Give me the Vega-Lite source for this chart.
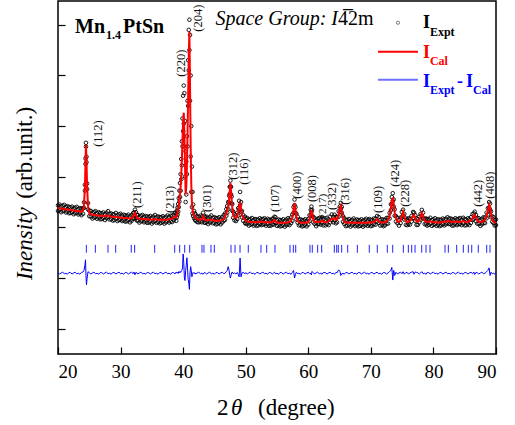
{
"$schema":"https://vega.github.io/schema/vega-lite/v6.json",
"width":438,"height":353,"autosize":"none",
"padding":{"left":58,"top":1,"right":19,"bottom":71},
"background":"white",
"config":{"view":{"stroke":"black","strokeWidth":1.5},"font":"Liberation Serif"},
"datasets":{
"xrd":[
{"t":20.00,"c":5.77,"a":5.87,"b":5.65,"d":3.21},{"t":20.25,"c":5.76,"a":5.90,"b":5.68,"d":3.16},{"t":20.50,"c":5.75,"a":5.83,"b":5.60,"d":3.20},{"t":20.75,"c":5.74,"a":5.86,"b":5.64,"d":3.23},{"t":21.00,"c":5.73,"a":5.89,"b":5.66,"d":3.17},{"t":21.25,"c":5.72,"a":5.81,"b":5.59,"d":3.19},{"t":21.50,"c":5.71,"a":5.84,"b":5.62,"d":3.15},{"t":21.75,"c":5.70,"a":5.81,"b":5.56,"d":3.22},
{"t":22.00,"c":5.69,"a":5.79,"b":5.57,"d":3.21},{"t":22.25,"c":5.68,"a":5.82,"b":5.60,"d":3.16},{"t":22.50,"c":5.67,"a":5.75,"b":5.52,"d":3.20},{"t":22.75,"c":5.66,"a":5.78,"b":5.56,"d":3.23},{"t":23.00,"c":5.65,"a":5.81,"b":5.58,"d":3.17},{"t":23.25,"c":5.64,"a":5.73,"b":5.51,"d":3.19},{"t":23.50,"c":5.63,"a":5.76,"b":5.54,"d":3.15},{"t":23.75,"c":5.62,"a":5.73,"b":5.48,"d":3.22},
{"t":24.00,"c":5.66,"a":5.76,"b":5.54,"d":3.24},{"t":24.15,"c":5.85,"a":5.99,"b":5.77,"d":3.30},{"t":24.30,"c":6.60,"a":6.68,"b":6.45,"d":3.50},{"t":24.40,"c":7.60,"a":7.72,"b":7.50,"d":3.72},{"t":24.47,"c":8.26,"a":8.34,"b":8.19,"d":3.10},{"t":24.55,"c":7.70,"a":7.79,"b":7.57,"d":2.73},{"t":24.65,"c":6.60,"a":6.73,"b":6.51,"d":3.00},{"t":24.80,"c":5.85,"a":5.96,"b":5.71,"d":3.25},
{"t":25.00,"c":5.56,"a":5.66,"b":5.44,"d":3.21},{"t":25.25,"c":5.51,"a":5.65,"b":5.43,"d":3.16},{"t":25.50,"c":5.50,"a":5.58,"b":5.35,"d":3.20},{"t":25.75,"c":5.49,"a":5.61,"b":5.39,"d":3.23},{"t":26.00,"c":5.48,"a":5.64,"b":5.41,"d":3.17},{"t":26.25,"c":5.47,"a":5.56,"b":5.34,"d":3.19},{"t":26.50,"c":5.47,"a":5.60,"b":5.38,"d":3.15},{"t":26.75,"c":5.46,"a":5.57,"b":5.32,"d":3.22},
{"t":27.00,"c":5.45,"a":5.55,"b":5.33,"d":3.21},{"t":27.25,"c":5.45,"a":5.59,"b":5.37,"d":3.16},{"t":27.50,"c":5.44,"a":5.52,"b":5.29,"d":3.20},{"t":27.75,"c":5.46,"a":5.58,"b":5.36,"d":3.23},{"t":28.00,"c":5.48,"a":5.64,"b":5.41,"d":3.17},{"t":28.25,"c":5.44,"a":5.53,"b":5.31,"d":3.19},{"t":28.50,"c":5.42,"a":5.55,"b":5.33,"d":3.15},{"t":28.75,"c":5.41,"a":5.52,"b":5.27,"d":3.22},
{"t":29.00,"c":5.41,"a":5.51,"b":5.29,"d":3.21},{"t":29.25,"c":5.43,"a":5.57,"b":5.35,"d":3.16},{"t":29.50,"c":5.40,"a":5.48,"b":5.25,"d":3.20},{"t":29.75,"c":5.39,"a":5.51,"b":5.29,"d":3.23},{"t":30.00,"c":5.38,"a":5.54,"b":5.31,"d":3.17},{"t":30.25,"c":5.38,"a":5.47,"b":5.25,"d":3.19},{"t":30.50,"c":5.37,"a":5.50,"b":5.28,"d":3.15},{"t":30.75,"c":5.37,"a":5.48,"b":5.23,"d":3.22},
{"t":31.00,"c":5.36,"a":5.46,"b":5.24,"d":3.21},{"t":31.25,"c":5.36,"a":5.50,"b":5.28,"d":3.16},{"t":31.50,"c":5.35,"a":5.43,"b":5.20,"d":3.20},{"t":31.75,"c":5.36,"a":5.48,"b":5.26,"d":3.23},{"t":32.00,"c":5.40,"a":5.56,"b":5.33,"d":3.17},{"t":32.15,"c":5.50,"a":5.59,"b":5.37,"d":3.24},{"t":32.30,"c":5.57,"a":5.70,"b":5.48,"d":3.13},{"t":32.45,"c":5.49,"a":5.60,"b":5.35,"d":3.22},
{"t":32.60,"c":5.39,"a":5.49,"b":5.27,"d":3.21},{"t":32.75,"c":5.35,"a":5.49,"b":5.27,"d":3.16},{"t":33.00,"c":5.34,"a":5.42,"b":5.19,"d":3.20},{"t":33.25,"c":5.34,"a":5.46,"b":5.24,"d":3.23},{"t":33.50,"c":5.33,"a":5.49,"b":5.26,"d":3.17},{"t":33.75,"c":5.33,"a":5.42,"b":5.20,"d":3.19},{"t":34.00,"c":5.32,"a":5.45,"b":5.23,"d":3.15},{"t":34.25,"c":5.32,"a":5.43,"b":5.18,"d":3.22},
{"t":34.50,"c":5.31,"a":5.41,"b":5.19,"d":3.21},{"t":34.75,"c":5.31,"a":5.45,"b":5.23,"d":3.16},{"t":35.00,"c":5.30,"a":5.38,"b":5.15,"d":3.20},{"t":35.25,"c":5.31,"a":5.43,"b":5.21,"d":3.23},{"t":35.50,"c":5.33,"a":5.49,"b":5.26,"d":3.17},{"t":35.75,"c":5.31,"a":5.40,"b":5.18,"d":3.19},{"t":36.00,"c":5.30,"a":5.43,"b":5.21,"d":3.15},{"t":36.25,"c":5.30,"a":5.41,"b":5.16,"d":3.22},
{"t":36.50,"c":5.30,"a":5.40,"b":5.18,"d":3.21},{"t":36.75,"c":5.30,"a":5.44,"b":5.22,"d":3.16},{"t":37.00,"c":5.30,"a":5.38,"b":5.15,"d":3.20},{"t":37.25,"c":5.30,"a":5.42,"b":5.20,"d":3.23},{"t":37.50,"c":5.31,"a":5.47,"b":5.24,"d":3.17},{"t":37.75,"c":5.32,"a":5.41,"b":5.19,"d":3.19},{"t":38.00,"c":5.33,"a":5.46,"b":5.24,"d":3.15},{"t":38.25,"c":5.35,"a":5.46,"b":5.21,"d":3.22},
{"t":38.50,"c":5.40,"a":5.50,"b":5.28,"d":3.21},{"t":38.70,"c":5.44,"a":5.58,"b":5.36,"d":3.16},{"t":38.90,"c":5.40,"a":5.52,"b":5.26,"d":3.24},{"t":39.00,"c":5.50,"a":5.65,"b":5.40,"d":3.20},{"t":39.10,"c":5.58,"a":5.78,"b":5.50,"d":3.22},{"t":39.20,"c":5.72,"a":5.92,"b":5.62,"d":3.18},{"t":39.30,"c":5.90,"a":6.15,"b":5.80,"d":3.25},{"t":39.40,"c":6.15,"a":6.45,"b":6.02,"d":3.21},
{"t":39.50,"c":6.35,"a":6.75,"b":6.20,"d":3.26},{"t":39.60,"c":6.61,"a":7.10,"b":6.45,"d":3.22},{"t":39.70,"c":7.10,"a":7.70,"b":6.90,"d":3.28},{"t":39.80,"c":7.70,"a":8.40,"b":7.45,"d":3.30},{"t":39.90,"c":8.50,"a":9.30,"b":8.20,"d":3.40},{"t":40.00,"c":9.20,"a":10.20,"b":8.80,"d":3.95},{"t":40.10,"c":9.53,"a":10.60,"b":9.10,"d":3.60},{"t":40.20,"c":8.70,"a":10.30,"b":8.20,"d":3.00},
{"t":40.30,"c":7.40,"a":9.20,"b":7.00,"d":2.90},{"t":40.40,"c":6.30,"a":8.00,"b":6.00,"d":3.30},{"t":40.50,"c":6.60,"a":7.60,"b":6.30,"d":3.50},{"t":40.60,"c":7.40,"a":8.60,"b":7.10,"d":3.80},{"t":40.70,"c":8.60,"a":10.00,"b":8.20,"d":3.40},{"t":40.80,"c":10.20,"a":11.60,"b":9.80,"d":2.95},{"t":40.90,"c":11.80,"a":12.80,"b":11.20,"d":2.80},{"t":41.00,"c":12.73,"a":13.20,"b":12.00,"d":2.55},
{"t":41.10,"c":10.60,"a":12.60,"b":10.00,"d":3.20},{"t":41.20,"c":8.20,"a":11.00,"b":7.80,"d":3.45},{"t":41.30,"c":6.70,"a":9.00,"b":6.40,"d":3.30},{"t":41.40,"c":6.00,"a":7.40,"b":5.80,"d":3.05},{"t":41.50,"c":5.70,"a":6.40,"b":5.55,"d":3.15},{"t":41.60,"c":5.58,"a":5.90,"b":5.45,"d":3.22},{"t":41.75,"c":5.48,"a":5.65,"b":5.36,"d":3.18},{"t":41.90,"c":5.42,"a":5.55,"b":5.30,"d":3.21},
{"t":42.00,"c":5.38,"a":5.50,"b":5.26,"d":3.16},{"t":42.25,"c":5.33,"a":5.43,"b":5.21,"d":3.20},{"t":42.50,"c":5.30,"a":5.42,"b":5.20,"d":3.23},{"t":42.75,"c":5.30,"a":5.46,"b":5.23,"d":3.17},{"t":43.00,"c":5.33,"a":5.42,"b":5.20,"d":3.19},{"t":43.20,"c":5.45,"a":5.58,"b":5.36,"d":3.15},{"t":43.40,"c":5.34,"a":5.45,"b":5.20,"d":3.22},{"t":43.50,"c":5.30,"a":5.40,"b":5.18,"d":3.21},
{"t":43.75,"c":5.28,"a":5.42,"b":5.20,"d":3.16},{"t":44.00,"c":5.28,"a":5.36,"b":5.13,"d":3.20},{"t":44.25,"c":5.29,"a":5.41,"b":5.19,"d":3.23},{"t":44.50,"c":5.31,"a":5.47,"b":5.24,"d":3.17},{"t":44.75,"c":5.29,"a":5.38,"b":5.16,"d":3.19},{"t":45.00,"c":5.27,"a":5.40,"b":5.18,"d":3.15},{"t":45.25,"c":5.26,"a":5.37,"b":5.12,"d":3.22},{"t":45.50,"c":5.26,"a":5.36,"b":5.14,"d":3.21},
{"t":45.75,"c":5.26,"a":5.40,"b":5.18,"d":3.16},{"t":46.00,"c":5.27,"a":5.35,"b":5.12,"d":3.20},{"t":46.25,"c":5.29,"a":5.41,"b":5.19,"d":3.23},{"t":46.50,"c":5.33,"a":5.49,"b":5.26,"d":3.17},{"t":46.70,"c":5.43,"a":5.55,"b":5.30,"d":3.19},{"t":46.90,"c":5.56,"a":5.72,"b":5.46,"d":3.25},{"t":47.05,"c":5.69,"a":5.85,"b":5.58,"d":3.30},{"t":47.20,"c":5.85,"a":6.00,"b":5.72,"d":3.45},
{"t":47.35,"c":6.12,"a":6.25,"b":5.98,"d":3.30},{"t":47.45,"c":6.45,"a":6.60,"b":6.32,"d":3.10},{"t":47.55,"c":6.76,"a":6.85,"b":6.62,"d":3.00},{"t":47.65,"c":6.45,"a":6.60,"b":6.30,"d":3.10},{"t":47.75,"c":6.10,"a":6.22,"b":5.95,"d":3.20},{"t":47.85,"c":5.80,"a":5.92,"b":5.66,"d":3.24},{"t":48.00,"c":5.50,"a":5.62,"b":5.38,"d":3.17},{"t":48.20,"c":5.40,"a":5.52,"b":5.28,"d":3.20},
{"t":48.45,"c":5.37,"a":5.47,"b":5.25,"d":3.16},{"t":48.65,"c":5.45,"a":5.58,"b":5.33,"d":3.22},{"t":48.80,"c":5.60,"a":5.76,"b":5.48,"d":3.15},{"t":48.95,"c":5.85,"a":6.05,"b":5.72,"d":3.05},{"t":49.10,"c":6.00,"a":6.40,"b":5.88,"d":3.79},{"t":49.25,"c":5.75,"a":6.00,"b":5.62,"d":3.05},{"t":49.40,"c":5.52,"a":5.65,"b":5.40,"d":3.20},{"t":49.60,"c":5.38,"a":5.49,"b":5.26,"d":3.22},
{"t":49.90,"c":5.30,"a":5.42,"b":5.18,"d":3.17},{"t":50.00,"c":5.26,"a":5.35,"b":5.14,"d":3.21},{"t":50.25,"c":5.23,"a":5.37,"b":5.15,"d":3.16},{"t":50.50,"c":5.22,"a":5.30,"b":5.07,"d":3.20},{"t":50.75,"c":5.21,"a":5.33,"b":5.11,"d":3.23},{"t":51.00,"c":5.21,"a":5.37,"b":5.14,"d":3.17},{"t":51.25,"c":5.20,"a":5.29,"b":5.07,"d":3.19},{"t":51.50,"c":5.20,"a":5.33,"b":5.11,"d":3.15},
{"t":51.75,"c":5.20,"a":5.31,"b":5.06,"d":3.22},{"t":52.00,"c":5.20,"a":5.30,"b":5.08,"d":3.21},{"t":52.25,"c":5.22,"a":5.36,"b":5.14,"d":3.16},{"t":52.50,"c":5.24,"a":5.32,"b":5.09,"d":3.20},{"t":52.75,"c":5.21,"a":5.33,"b":5.11,"d":3.23},{"t":53.00,"c":5.20,"a":5.36,"b":5.13,"d":3.17},{"t":53.25,"c":5.20,"a":5.29,"b":5.07,"d":3.19},{"t":53.50,"c":5.21,"a":5.34,"b":5.12,"d":3.15},
{"t":53.75,"c":5.20,"a":5.31,"b":5.06,"d":3.22},{"t":54.00,"c":5.19,"a":5.29,"b":5.07,"d":3.21},{"t":54.25,"c":5.20,"a":5.34,"b":5.12,"d":3.16},{"t":54.45,"c":5.26,"a":5.34,"b":5.11,"d":3.20},{"t":54.60,"c":5.30,"a":5.42,"b":5.20,"d":3.23},{"t":54.75,"c":5.24,"a":5.40,"b":5.17,"d":3.17},{"t":55.00,"c":5.19,"a":5.28,"b":5.06,"d":3.19},{"t":55.25,"c":5.18,"a":5.31,"b":5.09,"d":3.15},
{"t":55.50,"c":5.18,"a":5.29,"b":5.04,"d":3.22},{"t":55.75,"c":5.18,"a":5.28,"b":5.06,"d":3.21},{"t":56.00,"c":5.18,"a":5.32,"b":5.10,"d":3.16},{"t":56.25,"c":5.18,"a":5.26,"b":5.03,"d":3.20},{"t":56.50,"c":5.19,"a":5.31,"b":5.09,"d":3.23},{"t":56.75,"c":5.20,"a":5.36,"b":5.13,"d":3.17},{"t":57.00,"c":5.22,"a":5.31,"b":5.09,"d":3.19},{"t":57.25,"c":5.26,"a":5.39,"b":5.17,"d":3.15},
{"t":57.45,"c":5.40,"a":5.51,"b":5.26,"d":3.22},{"t":57.65,"c":5.70,"a":5.80,"b":5.58,"d":3.30},{"t":57.80,"c":5.96,"a":6.10,"b":5.88,"d":3.00},{"t":57.95,"c":5.72,"a":5.80,"b":5.57,"d":3.15},{"t":58.10,"c":5.42,"a":5.54,"b":5.32,"d":3.23},{"t":58.30,"c":5.26,"a":5.42,"b":5.19,"d":3.17},{"t":58.50,"c":5.21,"a":5.30,"b":5.08,"d":3.19},{"t":58.75,"c":5.19,"a":5.32,"b":5.10,"d":3.15},
{"t":59.00,"c":5.18,"a":5.29,"b":5.04,"d":3.22},{"t":59.25,"c":5.18,"a":5.28,"b":5.06,"d":3.21},{"t":59.50,"c":5.18,"a":5.32,"b":5.10,"d":3.16},{"t":59.75,"c":5.19,"a":5.27,"b":5.04,"d":3.20},{"t":60.00,"c":5.21,"a":5.33,"b":5.11,"d":3.23},{"t":60.20,"c":5.32,"a":5.48,"b":5.25,"d":3.17},{"t":60.40,"c":5.60,"a":5.69,"b":5.47,"d":3.19},{"t":60.50,"c":5.69,"a":5.82,"b":5.60,"d":3.12},
{"t":60.60,"c":5.58,"a":5.69,"b":5.44,"d":3.26},{"t":60.80,"c":5.32,"a":5.42,"b":5.20,"d":3.21},{"t":61.00,"c":5.22,"a":5.36,"b":5.14,"d":3.16},{"t":61.25,"c":5.20,"a":5.28,"b":5.05,"d":3.20},{"t":61.50,"c":5.22,"a":5.34,"b":5.12,"d":3.23},{"t":61.75,"c":5.21,"a":5.37,"b":5.14,"d":3.17},{"t":62.00,"c":5.24,"a":5.33,"b":5.11,"d":3.19},{"t":62.20,"c":5.28,"a":5.41,"b":5.19,"d":3.15},
{"t":62.40,"c":5.22,"a":5.33,"b":5.08,"d":3.22},{"t":62.75,"c":5.20,"a":5.30,"b":5.08,"d":3.21},{"t":63.00,"c":5.21,"a":5.35,"b":5.13,"d":3.16},{"t":63.25,"c":5.24,"a":5.32,"b":5.09,"d":3.20},{"t":63.50,"c":5.30,"a":5.42,"b":5.20,"d":3.23},{"t":63.75,"c":5.35,"a":5.51,"b":5.28,"d":3.17},{"t":64.00,"c":5.33,"a":5.42,"b":5.20,"d":3.19},{"t":64.20,"c":5.37,"a":5.50,"b":5.28,"d":3.15},
{"t":64.40,"c":5.30,"a":5.41,"b":5.16,"d":3.22},{"t":64.60,"c":5.32,"a":5.42,"b":5.20,"d":3.21},{"t":64.85,"c":5.50,"a":5.64,"b":5.42,"d":3.32},{"t":65.05,"c":5.75,"a":5.83,"b":5.60,"d":3.26},{"t":65.20,"c":5.85,"a":5.97,"b":5.75,"d":3.10},{"t":65.35,"c":5.65,"a":5.81,"b":5.58,"d":3.17},{"t":65.55,"c":5.35,"a":5.44,"b":5.22,"d":3.19},{"t":65.75,"c":5.23,"a":5.36,"b":5.14,"d":3.15},
{"t":66.00,"c":5.19,"a":5.30,"b":5.05,"d":3.22},{"t":66.25,"c":5.19,"a":5.29,"b":5.07,"d":3.21},{"t":66.50,"c":5.19,"a":5.33,"b":5.11,"d":3.16},{"t":66.75,"c":5.18,"a":5.26,"b":5.03,"d":3.20},{"t":67.00,"c":5.18,"a":5.30,"b":5.08,"d":3.23},{"t":67.25,"c":5.19,"a":5.35,"b":5.12,"d":3.17},{"t":67.50,"c":5.18,"a":5.27,"b":5.05,"d":3.19},{"t":67.75,"c":5.18,"a":5.31,"b":5.09,"d":3.15},
{"t":68.00,"c":5.18,"a":5.29,"b":5.04,"d":3.22},{"t":68.25,"c":5.18,"a":5.28,"b":5.06,"d":3.21},{"t":68.50,"c":5.18,"a":5.32,"b":5.10,"d":3.16},{"t":68.75,"c":5.18,"a":5.26,"b":5.03,"d":3.20},{"t":69.00,"c":5.18,"a":5.30,"b":5.08,"d":3.23},{"t":69.25,"c":5.18,"a":5.34,"b":5.11,"d":3.17},{"t":69.50,"c":5.19,"a":5.28,"b":5.06,"d":3.19},{"t":69.75,"c":5.20,"a":5.33,"b":5.11,"d":3.15},
{"t":70.00,"c":5.19,"a":5.30,"b":5.05,"d":3.22},{"t":70.25,"c":5.19,"a":5.29,"b":5.07,"d":3.21},{"t":70.50,"c":5.21,"a":5.35,"b":5.13,"d":3.16},{"t":70.75,"c":5.26,"a":5.34,"b":5.11,"d":3.20},{"t":71.00,"c":5.33,"a":5.45,"b":5.23,"d":3.23},{"t":71.25,"c":5.25,"a":5.41,"b":5.18,"d":3.17},{"t":71.50,"c":5.20,"a":5.29,"b":5.07,"d":3.19},{"t":71.75,"c":5.19,"a":5.32,"b":5.10,"d":3.15},
{"t":72.00,"c":5.19,"a":5.30,"b":5.05,"d":3.22},{"t":72.25,"c":5.20,"a":5.30,"b":5.08,"d":3.21},{"t":72.50,"c":5.23,"a":5.37,"b":5.15,"d":3.16},{"t":72.75,"c":5.30,"a":5.38,"b":5.15,"d":3.20},{"t":73.00,"c":5.45,"a":5.57,"b":5.35,"d":3.26},{"t":73.20,"c":5.75,"a":5.91,"b":5.68,"d":3.30},{"t":73.35,"c":6.05,"a":6.20,"b":5.92,"d":3.42},{"t":73.50,"c":6.17,"a":6.35,"b":6.05,"d":2.92},
{"t":73.65,"c":5.95,"a":6.10,"b":5.82,"d":3.30},{"t":73.80,"c":5.60,"a":5.71,"b":5.46,"d":3.10},{"t":74.00,"c":5.35,"a":5.45,"b":5.23,"d":3.23},{"t":74.25,"c":5.24,"a":5.38,"b":5.16,"d":3.16},{"t":74.50,"c":5.22,"a":5.30,"b":5.07,"d":3.20},{"t":74.75,"c":5.27,"a":5.39,"b":5.17,"d":3.23},{"t":74.95,"c":5.45,"a":5.61,"b":5.38,"d":3.17},{"t":75.15,"c":5.61,"a":5.70,"b":5.48,"d":3.25},
{"t":75.35,"c":5.40,"a":5.53,"b":5.31,"d":3.15},{"t":75.60,"c":5.24,"a":5.35,"b":5.10,"d":3.22},{"t":75.85,"c":5.21,"a":5.31,"b":5.09,"d":3.21},{"t":76.00,"c":5.22,"a":5.36,"b":5.14,"d":3.16},{"t":76.25,"c":5.26,"a":5.34,"b":5.11,"d":3.20},{"t":76.50,"c":5.33,"a":5.45,"b":5.23,"d":3.23},{"t":76.75,"c":5.45,"a":5.61,"b":5.38,"d":3.25},{"t":76.90,"c":5.49,"a":5.58,"b":5.36,"d":3.15},
{"t":77.10,"c":5.35,"a":5.48,"b":5.26,"d":3.24},{"t":77.30,"c":5.24,"a":5.35,"b":5.10,"d":3.22},{"t":77.50,"c":5.22,"a":5.32,"b":5.10,"d":3.21},{"t":77.75,"c":5.28,"a":5.42,"b":5.20,"d":3.16},{"t":77.95,"c":5.45,"a":5.53,"b":5.30,"d":3.20},{"t":78.15,"c":5.57,"a":5.69,"b":5.47,"d":3.25},{"t":78.35,"c":5.42,"a":5.58,"b":5.35,"d":3.17},{"t":78.60,"c":5.26,"a":5.35,"b":5.13,"d":3.19},
{"t":78.85,"c":5.22,"a":5.35,"b":5.13,"d":3.15},{"t":79.00,"c":5.21,"a":5.32,"b":5.07,"d":3.22},{"t":79.25,"c":5.22,"a":5.32,"b":5.10,"d":3.21},{"t":79.50,"c":5.24,"a":5.38,"b":5.16,"d":3.16},{"t":79.75,"c":5.21,"a":5.29,"b":5.06,"d":3.20},{"t":80.00,"c":5.20,"a":5.32,"b":5.10,"d":3.23},{"t":80.25,"c":5.20,"a":5.36,"b":5.13,"d":3.17},{"t":80.50,"c":5.19,"a":5.28,"b":5.06,"d":3.19},
{"t":80.75,"c":5.19,"a":5.32,"b":5.10,"d":3.15},{"t":81.00,"c":5.19,"a":5.30,"b":5.05,"d":3.22},{"t":81.25,"c":5.20,"a":5.30,"b":5.08,"d":3.21},{"t":81.50,"c":5.21,"a":5.35,"b":5.13,"d":3.16},{"t":81.75,"c":5.23,"a":5.31,"b":5.08,"d":3.20},{"t":82.00,"c":5.22,"a":5.34,"b":5.12,"d":3.23},{"t":82.25,"c":5.24,"a":5.40,"b":5.17,"d":3.17},{"t":82.50,"c":5.26,"a":5.35,"b":5.13,"d":3.19},
{"t":82.75,"c":5.22,"a":5.35,"b":5.13,"d":3.15},{"t":83.00,"c":5.21,"a":5.32,"b":5.07,"d":3.22},{"t":83.25,"c":5.20,"a":5.30,"b":5.08,"d":3.21},{"t":83.50,"c":5.22,"a":5.36,"b":5.14,"d":3.16},{"t":83.75,"c":5.24,"a":5.32,"b":5.09,"d":3.20},{"t":84.00,"c":5.22,"a":5.34,"b":5.12,"d":3.23},{"t":84.25,"c":5.21,"a":5.37,"b":5.14,"d":3.17},{"t":84.50,"c":5.22,"a":5.31,"b":5.09,"d":3.19},
{"t":84.75,"c":5.25,"a":5.38,"b":5.16,"d":3.15},{"t":85.00,"c":5.22,"a":5.33,"b":5.08,"d":3.22},{"t":85.25,"c":5.21,"a":5.31,"b":5.09,"d":3.21},{"t":85.50,"c":5.22,"a":5.36,"b":5.14,"d":3.16},{"t":85.75,"c":5.24,"a":5.32,"b":5.09,"d":3.20},{"t":86.00,"c":5.28,"a":5.40,"b":5.18,"d":3.23},{"t":86.25,"c":5.36,"a":5.52,"b":5.29,"d":3.17},{"t":86.45,"c":5.46,"a":5.55,"b":5.33,"d":3.24},
{"t":86.60,"c":5.49,"a":5.62,"b":5.40,"d":3.14},{"t":86.80,"c":5.38,"a":5.49,"b":5.24,"d":3.22},{"t":87.00,"c":5.27,"a":5.37,"b":5.15,"d":3.21},{"t":87.25,"c":5.22,"a":5.36,"b":5.14,"d":3.16},{"t":87.50,"c":5.21,"a":5.29,"b":5.06,"d":3.20},{"t":87.75,"c":5.22,"a":5.34,"b":5.12,"d":3.23},{"t":88.00,"c":5.24,"a":5.40,"b":5.17,"d":3.17},{"t":88.25,"c":5.30,"a":5.39,"b":5.17,"d":3.19},
{"t":88.50,"c":5.45,"a":5.58,"b":5.36,"d":3.25},{"t":88.70,"c":5.65,"a":5.76,"b":5.51,"d":3.30},{"t":88.90,"c":5.89,"a":6.00,"b":5.77,"d":3.40},{"t":89.05,"c":5.80,"a":5.94,"b":5.70,"d":3.10},{"t":89.20,"c":5.55,"a":5.63,"b":5.40,"d":3.23},{"t":89.40,"c":5.32,"a":5.44,"b":5.22,"d":3.17},{"t":89.60,"c":5.24,"a":5.40,"b":5.17,"d":3.19},{"t":89.80,"c":5.20,"a":5.29,"b":5.07,"d":3.15},
{"t":90.00,"c":5.18,"a":5.31,"b":5.09,"d":3.22}
],
"bragg":[
{"t":24.53},{"t":25.97},{"t":27.99},{"t":29.22},{"t":31.71},{"t":32.25},{"t":35.45},{"t":38.65},{"t":39.45},{"t":40.25},{"t":41.05},{"t":43.01},{"t":43.33},{"t":44.45},{"t":44.98},{"t":47.65},{"t":48.29},{"t":49.09},{"t":50.41},{"t":52.44},{"t":53.35},{"t":54.68},{"t":57.08},{"t":57.61},{"t":57.99},{"t":60.27},{"t":60.64},{"t":61.5},{"t":62.14},{"t":64.16},{"t":64.54},{"t":64.8},{"t":65.34},{"t":66.3},{"t":67.84},{"t":69.75},{"t":71.03},{"t":72.63},{"t":73.49},{"t":75.19},{"t":75.99},{"t":76.53},{"t":77.06},{"t":78.13},{"t":78.82},{"t":79.45},{"t":81.85},{"t":82.38},{"t":83.72},{"t":84.78},{"t":85.58},{"t":86.12},{"t":87.17},{"t":88.51},{"t":89.04}
],
"hkl":[
{"t":26.39,"v":8.18,"s":"(112)"},{"t":32.63,"v":5.77,"s":"(211)"},{"t":37.9,"v":5.57,"s":"(213)"},{"t":39.66,"v":10.95,"s":"(220)"},{"t":42.37,"v":12.73,"s":"(204)"},{"t":43.81,"v":5.61,"s":"(301)"},{"t":47.97,"v":6.88,"s":"(312)"},{"t":49.73,"v":6.68,"s":"(116)"},{"t":54.68,"v":5.61,"s":"(107)"},{"t":58.2,"v":6.13,"s":"(400)"},{"t":60.6,"v":6.0,"s":"(008)"},{"t":63.79,"v":5.69,"s":"(332)"},{"t":65.87,"v":5.89,"s":"(316)"},{"t":71.14,"v":5.57,"s":"(109)"},{"t":73.86,"v":6.6,"s":"(424)"},{"t":75.46,"v":5.81,"s":"(228)"},{"t":87.13,"v":5.81,"s":"(442)"},{"t":89.04,"v":6.13,"s":"(408)"}
],
"hkls":[{"t":62.35,"v":5.38,"s":"(217)"}],
"notes":[
{"k":"big","x":22.72,"y":12.69,"s":"Mn"},{"k":"bigsub","x":27.67,"y":12.45,"s":"1.4"},{"k":"big","x":30.39,"y":12.69,"s":"PtSn"},
{"k":"sgi","x":64.75,"y":13.0,"s":"Space Group: I"},{"k":"sgr","x":64.75,"y":13.0,"s":"4\u03052m"},
{"k":"lk","x":78.33,"y":12.89,"s":"I"},{"k":"lks","x":79.44,"y":12.57,"s":"Expt"},
{"k":"lr","x":78.33,"y":11.7,"s":"I"},{"k":"lrs","x":79.44,"y":11.42,"s":"Cal"},
{"k":"lb","x":78.33,"y":10.55,"s":"I"},{"k":"lbs","x":79.44,"y":10.28,"s":"Expt"},{"k":"lb","x":83.77,"y":10.55,"s":"-"},{"k":"lb","x":85.2,"y":10.55,"s":"I"},{"k":"lbs","x":86.33,"y":10.28,"s":"Cal"},
{"k":"xt","x":45.41,"y":-2.13,"s":"2"},{"k":"xti","x":47.65,"y":-2.13,"s":"θ"},{"k":"xt","x":51.96,"y":-2.13,"s":"(degree)"}
],
"ytitle":[{"k":"i","x":14.73,"y":2.92,"s":"Inensity"},{"k":"r","x":14.73,"y":9.76,"s":"(arb.unit.)"}],
"legline":[{"k":"red","x":71.14,"x2":77.53,"y":11.94},{"k":"blue","x":71.14,"x2":77.53,"y":10.83}],
"legpt":[{"x":74.34,"y":13.08}]
},
"layer":[
{"data":{"name":"bragg"},"mark":{"type":"rule","color":"#2020ff","strokeWidth":1},
 "encoding":{
  "x":{"field":"t","type":"quantitative","scale":{"domain":[20,90],"nice":false,"zero":false},
   "axis":{"values":[20,25,30,35,40,45,50,55,60,65,70,75,80,85,90],"title":null,"grid":false,"domain":false,
    "labelExpr":"datum.value % 10 === 0 ? datum.label : ''","labelFont":"Liberation Serif","labelFontSize":19,"labelColor":"black","labelPadding":15,
    "tickColor":"black","tickWidth":1.2,"tickSize":{"condition":{"test":"datum.value % 10 === 0","value":-7},"value":-4}}},
  "y":{"datum":4.0,"type":"quantitative","scale":{"domain":[0,13.94],"nice":false,"zero":false},
   "axis":{"values":[1,2,3,4,5,6,7,8,9,10,11,12,13],"labels":false,"title":null,"grid":false,"domain":false,
    "tickColor":"black","tickWidth":1.2,"tickSize":{"condition":{"test":"datum.value % 2 === 1","value":-7},"value":-4}}},
  "y2":{"datum":4.31}}},
{"data":{"name":"xrd"},"mark":{"type":"line","color":"#0000ff","strokeWidth":1},
 "encoding":{"x":{"field":"t","type":"quantitative","title":null},"y":{"field":"d","type":"quantitative","title":null}}},
{"data":{"name":"xrd"},"transform":[{"fold":["a","b"],"as":["k","e"]}],
 "mark":{"type":"point","shape":"circle","filled":false,"color":"black","stroke":"black","strokeWidth":0.9,"size":13,"opacity":1},
 "encoding":{"x":{"field":"t","type":"quantitative","title":null},"y":{"field":"e","type":"quantitative","title":null}}},
{"data":{"name":"xrd"},"mark":{"type":"line","color":"#ff0000","strokeWidth":2},
 "encoding":{"x":{"field":"t","type":"quantitative","title":null},"y":{"field":"c","type":"quantitative","title":null}}},
{"data":{"name":"hkl"},"mark":{"type":"text","angle":270,"align":"left","baseline":"middle","font":"Liberation Serif","fontSize":12.5,"color":"#111111"},
 "encoding":{"x":{"field":"t","type":"quantitative","title":null},"y":{"field":"v","type":"quantitative","title":null},"text":{"field":"s"}}},
{"data":{"name":"hkls"},"mark":{"type":"text","angle":270,"align":"left","baseline":"middle","font":"Liberation Serif","fontSize":11,"color":"#111111"},
 "encoding":{"x":{"field":"t","type":"quantitative","title":null},"y":{"field":"v","type":"quantitative","title":null},"text":{"field":"s"}}},
{"data":{"name":"notes"},"transform":[{"filter":"datum.k === 'big'"}],"mark":{"type":"text","align":"left","baseline":"alphabetic","font":"Liberation Serif","fontSize":20,"fontWeight":"bold","color":"black"},
 "encoding":{"x":{"field":"x","type":"quantitative","title":null},"y":{"field":"y","type":"quantitative","title":null},"text":{"field":"s"}}},
{"data":{"name":"notes"},"transform":[{"filter":"datum.k === 'bigsub'"}],"mark":{"type":"text","align":"left","baseline":"alphabetic","font":"Liberation Serif","fontSize":12,"fontWeight":"bold","color":"black"},
 "encoding":{"x":{"field":"x","type":"quantitative","title":null},"y":{"field":"y","type":"quantitative","title":null},"text":{"field":"s"}}},
{"data":{"name":"notes"},"transform":[{"filter":"datum.k === 'sgi'"}],"mark":{"type":"text","align":"right","baseline":"alphabetic","font":"Liberation Serif","fontSize":20,"fontStyle":"italic","color":"black"},
 "encoding":{"x":{"field":"x","type":"quantitative","title":null},"y":{"field":"y","type":"quantitative","title":null},"text":{"field":"s"}}},
{"data":{"name":"notes"},"transform":[{"filter":"datum.k === 'sgr'"}],"mark":{"type":"text","align":"left","baseline":"alphabetic","font":"Liberation Serif","fontSize":20,"color":"black"},
 "encoding":{"x":{"field":"x","type":"quantitative","title":null},"y":{"field":"y","type":"quantitative","title":null},"text":{"field":"s"}}},
{"data":{"name":"legpt"},"mark":{"type":"point","shape":"circle","filled":false,"color":"black","strokeWidth":0.7,"size":10},
 "encoding":{"x":{"field":"x","type":"quantitative","title":null},"y":{"field":"y","type":"quantitative","title":null}}},
{"data":{"name":"legline"},"mark":{"type":"rule","strokeWidth":2},
 "encoding":{"x":{"field":"x","type":"quantitative","title":null},"x2":{"field":"x2"},"y":{"field":"y","type":"quantitative","title":null},
  "color":{"field":"k","type":"nominal","scale":{"domain":["red","blue"],"range":["#ff0000","#7070ff"]},"legend":null},
  "strokeWidth":{"field":"k","type":"nominal","scale":{"domain":["red","blue"],"range":[2,1.2]},"legend":null}}},
{"data":{"name":"notes"},"transform":[{"filter":"datum.k === 'lk'"}],"mark":{"type":"text","align":"left","baseline":"alphabetic","font":"Liberation Serif","fontSize":18,"fontWeight":"bold","color":"black"},
 "encoding":{"x":{"field":"x","type":"quantitative","title":null},"y":{"field":"y","type":"quantitative","title":null},"text":{"field":"s"}}},
{"data":{"name":"notes"},"transform":[{"filter":"datum.k === 'lks'"}],"mark":{"type":"text","align":"left","baseline":"alphabetic","font":"Liberation Serif","fontSize":12,"fontWeight":"bold","color":"black"},
 "encoding":{"x":{"field":"x","type":"quantitative","title":null},"y":{"field":"y","type":"quantitative","title":null},"text":{"field":"s"}}},
{"data":{"name":"notes"},"transform":[{"filter":"datum.k === 'lr'"}],"mark":{"type":"text","align":"left","baseline":"alphabetic","font":"Liberation Serif","fontSize":18,"fontWeight":"bold","color":"#ff0000"},
 "encoding":{"x":{"field":"x","type":"quantitative","title":null},"y":{"field":"y","type":"quantitative","title":null},"text":{"field":"s"}}},
{"data":{"name":"notes"},"transform":[{"filter":"datum.k === 'lrs'"}],"mark":{"type":"text","align":"left","baseline":"alphabetic","font":"Liberation Serif","fontSize":12,"fontWeight":"bold","color":"#ff0000"},
 "encoding":{"x":{"field":"x","type":"quantitative","title":null},"y":{"field":"y","type":"quantitative","title":null},"text":{"field":"s"}}},
{"data":{"name":"notes"},"transform":[{"filter":"datum.k === 'lb'"}],"mark":{"type":"text","align":"left","baseline":"alphabetic","font":"Liberation Serif","fontSize":18,"fontWeight":"bold","color":"#0000ff"},
 "encoding":{"x":{"field":"x","type":"quantitative","title":null},"y":{"field":"y","type":"quantitative","title":null},"text":{"field":"s"}}},
{"data":{"name":"notes"},"transform":[{"filter":"datum.k === 'lbs'"}],"mark":{"type":"text","align":"left","baseline":"alphabetic","font":"Liberation Serif","fontSize":12,"fontWeight":"bold","color":"#0000ff"},
 "encoding":{"x":{"field":"x","type":"quantitative","title":null},"y":{"field":"y","type":"quantitative","title":null},"text":{"field":"s"}}},
{"data":{"name":"notes"},"transform":[{"filter":"datum.k === 'xt'"}],"mark":{"type":"text","align":"left","baseline":"middle","font":"Liberation Serif","fontSize":23,"color":"black"},
 "encoding":{"x":{"field":"x","type":"quantitative","title":null},"y":{"field":"y","type":"quantitative","title":null},"text":{"field":"s"}}},
{"data":{"name":"notes"},"transform":[{"filter":"datum.k === 'xti'"}],"mark":{"type":"text","align":"left","baseline":"middle","font":"Liberation Serif","fontSize":23,"fontStyle":"italic","color":"black"},
 "encoding":{"x":{"field":"x","type":"quantitative","title":null},"y":{"field":"y","type":"quantitative","title":null},"text":{"field":"s"}}},
{"data":{"name":"ytitle"},"transform":[{"filter":"datum.k === 'i'"}],"mark":{"type":"text","angle":270,"align":"left","baseline":"middle","font":"Liberation Serif","fontSize":23,"fontStyle":"italic","color":"black"},
 "encoding":{"x":{"field":"x","type":"quantitative","title":null},"y":{"field":"y","type":"quantitative","title":null},"text":{"field":"s"}}},
{"data":{"name":"ytitle"},"transform":[{"filter":"datum.k === 'r'"}],"mark":{"type":"text","angle":270,"align":"right","baseline":"middle","font":"Liberation Serif","fontSize":23,"color":"black"},
 "encoding":{"x":{"field":"x","type":"quantitative","title":null},"y":{"field":"y","type":"quantitative","title":null},"text":{"field":"s"}}}
]
}
